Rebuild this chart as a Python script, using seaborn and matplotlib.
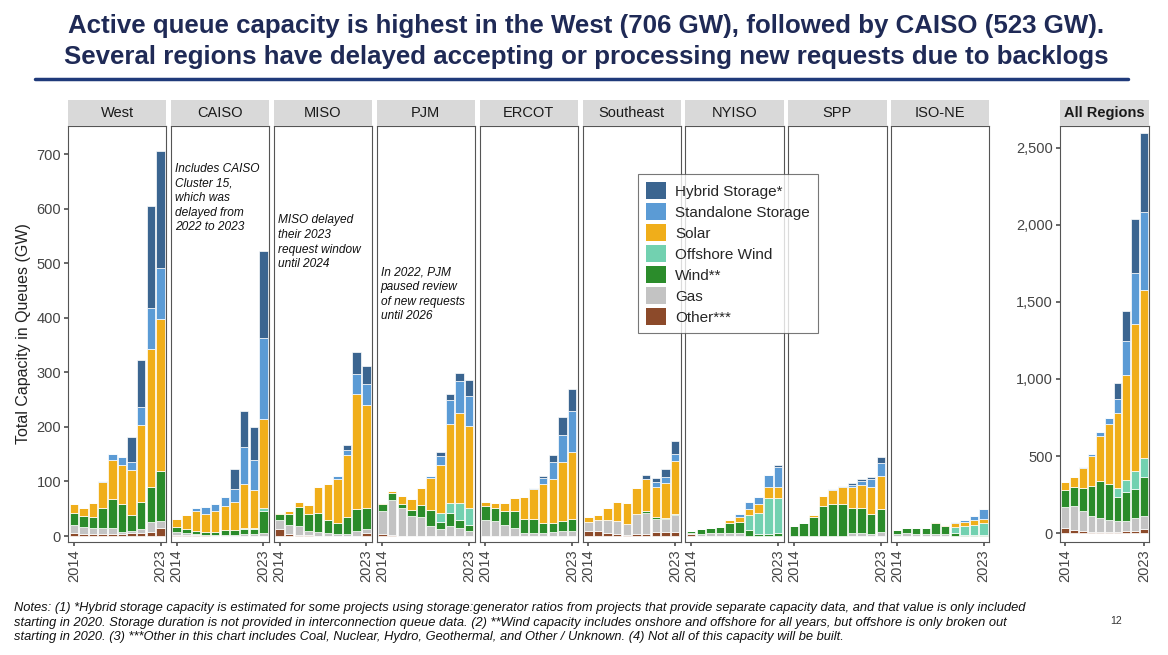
import matplotlib
matplotlib.use("Agg")
import matplotlib.pyplot as plt
import seaborn as sns
import pandas as pd
from matplotlib.patches import Patch

sns.set_theme(style="white")
plt.rcParams['font.family'] = ['Liberation Sans', 'DejaVu Sans']

years = list(range(2014, 2024))
categories = ["Hybrid Storage*", "Standalone Storage", "Solar", "Offshore Wind", "Wind**", "Gas", "Other***"]
colors = ["#3b6590", "#5b9bd5", "#f0ae1a", "#72d1b0", "#2b8c2b", "#c3c3c3", "#8c4a2a"]
regions = ["West", "CAISO", "MISO", "PJM", "ERCOT", "Southeast", "NYISO", "SPP", "ISO-NE"]

# per region: values per year 2014..2023
west_other    = [5, 4, 4, 4, 4, 3, 5, 6, 8, 15]
west_gas      = [15, 12, 10, 10, 10, 5, 5, 6, 17, 12]
west_wind     = [23, 21, 21, 37, 53, 50, 28, 51, 65, 93]
west_off      = [0]*10
west_solar    = [15, 14, 26, 48, 73, 72, 83, 140, 253, 278]
west_storage  = [0, 0, 0, 2, 11, 14, 15, 34, 75, 93]
west_hybrid   = [0, 0, 0, 0, 0, 0, 46, 85, 187, 215]

caiso_other   = [2, 2, 1, 1, 0, 0, 0, 0, 0, 0]
caiso_gas     = [5, 4, 2, 1, 2, 2, 2, 3, 3, 5]
caiso_wind    = [9, 6, 6, 5, 6, 9, 9, 9, 9, 40]
caiso_off     = [0, 0, 0, 0, 0, 0, 0, 3, 2, 7]
caiso_solar   = [16, 26, 36, 33, 38, 44, 52, 80, 71, 163]
caiso_storage = [0, 0, 6, 14, 12, 17, 23, 69, 55, 149]
caiso_hybrid  = [0, 0, 0, 0, 0, 0, 36, 66, 60, 159]

miso_other    = [12, 4, 2, 2, 0, 0, 0, 0, 0, 5]
miso_gas      = [17, 16, 16, 8, 8, 5, 3, 3, 10, 8]
miso_wind     = [12, 21, 36, 31, 35, 24, 21, 31, 39, 39]
miso_off      = [0]*10
miso_solar    = [2, 4, 9, 16, 47, 66, 81, 114, 212, 188]
miso_storage  = [0, 0, 0, 0, 0, 0, 5, 9, 36, 38]
miso_hybrid   = [0, 0, 0, 0, 0, 0, 0, 9, 40, 34]

pjm_other     = [3, 2, 0, 0, 0, 0, 0, 0, 0, 0]
pjm_gas       = [43, 64, 51, 37, 35, 18, 12, 18, 14, 10]
pjm_wind      = [12, 12, 8, 11, 22, 30, 14, 25, 16, 10]
pjm_off       = [0, 0, 0, 0, 0, 0, 17, 18, 30, 31]
pjm_solar     = [3, 4, 14, 19, 31, 58, 88, 145, 166, 151]
pjm_storage   = [0, 0, 0, 0, 0, 4, 16, 43, 58, 54]
pjm_hybrid    = [0, 0, 0, 0, 0, 0, 7, 12, 15, 31]

ercot_other   = [0]*10
ercot_gas     = [30, 28, 20, 14, 6, 6, 6, 8, 10, 10]
ercot_wind    = [25, 23, 26, 31, 26, 26, 17, 16, 18, 22]
ercot_off     = [0]*10
ercot_solar   = [8, 10, 14, 24, 39, 55, 73, 81, 108, 122]
ercot_storage = [0, 0, 0, 0, 0, 1, 11, 31, 49, 76]
ercot_hybrid  = [0, 0, 0, 0, 0, 0, 3, 12, 33, 40]

se_other      = [10, 10, 6, 3, 2, 3, 3, 8, 8, 8]
se_gas        = [16, 20, 23, 24, 20, 37, 40, 24, 23, 30]
se_wind       = [0, 0, 0, 0, 0, 0, 2, 2, 2, 2]
se_off        = [0]*10
se_solar      = [8, 8, 23, 36, 38, 48, 59, 56, 65, 98]
se_storage    = [0, 0, 0, 0, 0, 0, 1, 9, 11, 13]
se_hybrid     = [0, 0, 0, 0, 0, 0, 6, 8, 14, 24]

ny_other      = [3, 0, 0, 0, 0, 0, 0, 0, 0, 0]
ny_gas        = [3, 4, 5, 5, 5, 5, 0, 0, 0, 0]
ny_wind       = [4, 8, 9, 11, 18, 20, 11, 3, 4, 5]
ny_off        = [0, 0, 0, 0, 0, 0, 27, 39, 65, 65]
ny_solar      = [0, 0, 0, 0, 6, 10, 12, 16, 21, 20]
ny_storage    = [0, 0, 0, 0, 0, 6, 13, 14, 21, 37]
ny_hybrid     = [0, 0, 0, 0, 0, 0, 0, 0, 0, 4]

spp_other     = [0]*10
spp_gas       = [0, 0, 0, 0, 0, 0, 5, 5, 3, 8]
spp_wind      = [18, 24, 35, 55, 59, 59, 47, 47, 37, 41]
spp_off       = [0]*10
spp_solar     = [0, 0, 3, 18, 25, 30, 37, 41, 50, 61]
spp_storage   = [0, 0, 0, 0, 3, 3, 4, 8, 15, 24]
spp_hybrid    = [0, 0, 0, 0, 0, 0, 5, 3, 4, 11]

ne_other      = [0]*10
ne_gas        = [3, 5, 3, 3, 3, 3, 0, 0, 0, 0]
ne_wind       = [8, 10, 11, 12, 21, 15, 5, 2, 2, 2]
ne_off        = [0, 0, 0, 0, 0, 0, 12, 16, 18, 22]
ne_solar      = [0, 0, 0, 0, 1, 2, 6, 8, 9, 8]
ne_storage    = [0, 0, 0, 0, 0, 0, 3, 4, 8, 18]
ne_hybrid     = [0]*10

series = {
    "West": [west_hybrid, west_storage, west_solar, west_off, west_wind, west_gas, west_other],
    "CAISO": [caiso_hybrid, caiso_storage, caiso_solar, caiso_off, caiso_wind, caiso_gas, caiso_other],
    "MISO": [miso_hybrid, miso_storage, miso_solar, miso_off, miso_wind, miso_gas, miso_other],
    "PJM": [pjm_hybrid, pjm_storage, pjm_solar, pjm_off, pjm_wind, pjm_gas, pjm_other],
    "ERCOT": [ercot_hybrid, ercot_storage, ercot_solar, ercot_off, ercot_wind, ercot_gas, ercot_other],
    "Southeast": [se_hybrid, se_storage, se_solar, se_off, se_wind, se_gas, se_other],
    "NYISO": [ny_hybrid, ny_storage, ny_solar, ny_off, ny_wind, ny_gas, ny_other],
    "SPP": [spp_hybrid, spp_storage, spp_solar, spp_off, spp_wind, spp_gas, spp_other],
    "ISO-NE": [ne_hybrid, ne_storage, ne_solar, ne_off, ne_wind, ne_gas, ne_other],
}

rows = []
for r in regions:
    for cat, vals in zip(categories, series[r]):
        for y, v in zip(years, vals):
            rows.append({"region": r, "year": y, "cat": cat, "value": v})
df = pd.DataFrame(rows)
df_all = df.groupby(["year", "cat"], as_index=False)["value"].sum()

W, H = 1168, 655
fig = plt.figure(figsize=(W/100, H/100), dpi=100)
def ax_px(x0, y0, x1, y1):
    return fig.add_axes([x0/W, 1-y1/H, (x1-x0)/W, (y1-y0)/H])

navy = "#1f2a56"
fig.text(586/W, 1-26/H, "Active queue capacity is highest in the West (706 GW), followed by CAISO (523 GW).",
         ha="center", va="center", fontsize=18.6, fontweight="bold", color=navy)
fig.text(586/W, 1-57/H, "Several regions have delayed accepting or processing new requests due to backlogs",
         ha="center", va="center", fontsize=18.6, fontweight="bold", color=navy)
line = plt.Line2D([35/W, 1128/W], [1-79/H, 1-79/H], color="#1f3a7a", lw=2.5, transform=fig.transFigure)
fig.add_artist(line)

pal = dict(zip(categories, colors))

def draw(ax, data, ylim, ticks, ticklabels):
    # seaborn stacks the first hue level on top
    sns.histplot(data=data, x="year", weights="value", hue="cat", hue_order=categories,
                 multiple="stack", discrete=True, shrink=0.88, palette=pal, alpha=1,
                 edgecolor="white", linewidth=0.5, legend=False, ax=ax)
    ax.set_xlim(2013.4, 2023.6)
    ax.set_ylim(*ylim)
    ax.set_xticks([2014, 2023])
    ax.set_xticklabels(["2014", "2023"], rotation=90, fontsize=10.5, color="#444444")
    ax.set_xlabel(""); ax.set_ylabel("")
    ax.set_yticks(ticks)
    ax.set_yticklabels(ticklabels, fontsize=10.5, color="#444444")
    ax.tick_params(axis="both", length=3, color="#555555", left=bool(ticklabels), bottom=True, pad=2)
    for s in ax.spines.values():
        s.set_color("#555555"); s.set_linewidth(0.8)

def strip(x0, x1, label, bold=False):
    sax = ax_px(x0, 100, x1, 126)
    sax.set_facecolor("#d9d9d9")
    sax.set_xticks([]); sax.set_yticks([])
    for s in sax.spines.values():
        s.set_visible(False)
    sax.text(0.5, 0.5, label, ha="center", va="center", fontsize=10.5,
             fontweight="bold" if bold else "normal", color="#1a1a1a", transform=sax.transAxes)

x0 = 68
pw, gap = 98.3, 4.6
annots = {
    "CAISO": "Includes CAISO\nCluster 15,\nwhich was\ndelayed from\n2022 to 2023",
    "MISO": "MISO delayed\ntheir 2023\nrequest window\nuntil 2024",
    "PJM": "In 2022, PJM\npaused review\nof new requests\nuntil 2026",
}
annot_y = {"CAISO": 685, "MISO": 590, "PJM": 495}
for i, r in enumerate(regions):
    a = x0 + i*(pw+gap)
    ax = ax_px(a, 126, a+pw, 542)
    yt = [0, 100, 200, 300, 400, 500, 600, 700]
    draw(ax, df[df.region == r], (-11, 752), yt, [str(t) for t in yt] if i == 0 else [])
    strip(a, a+pw, r)
    if r in annots:
        ax.text(2013.8, annot_y[r], annots[r], ha="left", va="top", fontsize=8.6,
                style="italic", color="#111111", linespacing=1.3)
    if i == 0:
        ax.set_ylabel("Total Capacity in Queues (GW)", fontsize=11.5, color="#222222")

axa = ax_px(1060, 126, 1149, 542)
ta = [0, 500, 1000, 1500, 2000, 2500]
draw(axa, df_all, (-58, 2642), ta, [f"{t:,}" for t in ta])
strip(1060, 1149, "All Regions", bold=True)

handles = [Patch(facecolor=c, edgecolor="none", label=l) for l, c in zip(categories, colors)]
leg = fig.legend(handles=handles, loc="upper left", bbox_to_anchor=(630/W, 1-166/H),
                 frameon=True, fontsize=11, handlelength=1.3, handleheight=1.35,
                 labelspacing=0.25, borderpad=0.55, handletextpad=0.6)
leg.get_frame().set_edgecolor("#555555"); leg.get_frame().set_linewidth(0.8)
leg.get_frame().set_boxstyle("square", pad=0)

notes = ("Notes: (1) *Hybrid storage capacity is estimated for some projects using storage:generator ratios from projects that provide separate capacity data, and that value is only included\n"
         "starting in 2020. Storage duration is not provided in interconnection queue data. (2) **Wind capacity includes onshore and offshore for all years, but offshore is only broken out\n"
         "starting in 2020. (3) ***Other in this chart includes Coal, Nuclear, Hydro, Geothermal, and Other / Unknown. (4) Not all of this capacity will be built.")
fig.text(14/W, 1-602/H, notes, ha="left", va="top", fontsize=9.3, style="italic",
         color="#111111", linespacing=1.3)
fig.text(1110/W, 1-621/H, "12", ha="left", va="center", fontsize=7.5, color="#333333")

fig.savefig("out.png", dpi=100)
